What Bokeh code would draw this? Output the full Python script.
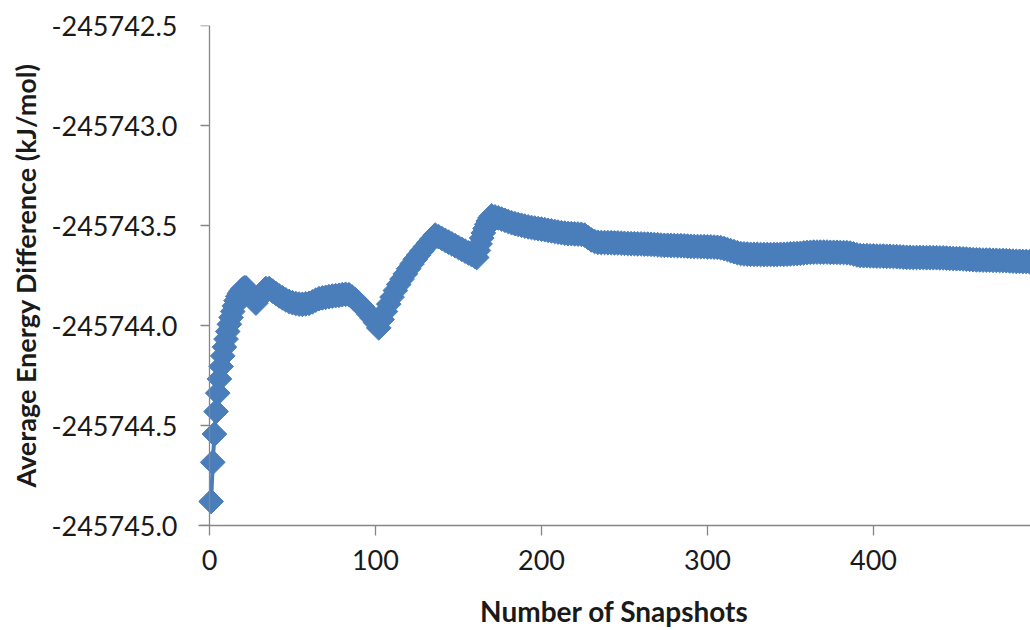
import math

from bokeh.embed import file_html
from bokeh.models import CustomJSTickFormatter, FixedTicker, LinearAxis, PrintfTickFormatter, Range1d
from bokeh.plotting import figure
from bokeh.resources import INLINE

# Running average of the energy difference versus number of snapshots
snapshots = [
    1, 2, 3, 4, 5, 6, 7, 8, 9, 10, 11, 12, 13, 14, 15, 16, 17, 18, 19, 20, 21, 22,
    24, 26, 28, 30, 32, 34, 36, 38, 40, 42, 44, 46, 48, 50, 52, 54, 56, 58, 60,
    62, 64, 66, 68, 70, 72, 74, 76, 78, 80, 82, 84, 86, 88, 90, 92, 94, 96, 98, 100,
    102, 104, 106, 108, 110, 112, 114, 116, 118, 120, 122, 124, 126, 128, 130,
    132, 134, 136, 138, 140, 142, 144, 146, 148, 150, 152, 154, 156, 158, 160,
    161, 162, 163, 164, 165, 166, 167, 168, 169, 170,
    172, 174, 176, 178, 180, 182, 184, 186, 188, 190, 192, 194, 196, 198, 200,
    202, 204, 206, 208, 210, 212, 214, 216, 218, 220, 222, 224, 226, 228, 230,
    232, 234, 236, 238, 240, 242, 244, 246, 248, 250, 252, 254, 256, 258, 260,
    262, 264, 266, 268, 270, 272, 274, 276, 278, 280, 282, 284, 286, 288, 290,
    292, 294, 296, 298, 300, 302, 304, 306, 308, 310, 312, 314, 316, 318, 320,
    322, 324, 326, 328, 330, 332, 334, 336, 338, 340, 342, 344, 346, 348, 350,
    352, 354, 356, 358, 360, 362, 364, 366, 368, 370, 372, 374, 376, 378, 380,
    382, 384, 386, 388, 390, 392, 394, 396, 398, 400, 402, 404, 406, 408, 410,
    412, 414, 416, 418, 420, 422, 424, 426, 428, 430, 432, 434, 436, 438, 440,
    442, 444, 446, 448, 450, 452, 454, 456, 458, 460, 462, 464, 466, 468, 470,
    472, 474, 476, 478, 480, 482, 484, 486, 488, 490, 492, 494, 496, 498, 500,
]

energies = [
    -245744.880, -245744.684, -245744.543, -245744.430, -245744.338, -245744.267,
    -245744.205, -245744.152, -245744.108, -245744.068, -245744.030, -245743.994,
    -245743.960, -245743.930, -245743.902, -245743.876, -245743.855, -245743.840,
    -245743.828, -245743.818, -245743.812, -245743.812,
    -245743.840, -245743.866, -245743.888, -245743.864, -245743.840, -245743.815,
    -245743.815, -245743.828, -245743.840, -245743.852, -245743.862, -245743.872,
    -245743.880, -245743.886, -245743.890, -245743.893, -245743.894, -245743.892,
    -245743.889,
    -245743.882, -245743.873, -245743.866, -245743.862, -245743.859, -245743.856,
    -245743.853, -245743.851, -245743.849, -245743.846, -245743.844, -245743.846,
    -245743.858, -245743.872, -245743.888, -245743.905, -245743.924, -245743.943,
    -245743.963, -245743.985,
    -245744.012, -245743.970, -245743.930, -245743.893, -245743.858, -245743.825,
    -245743.795, -245743.768, -245743.742, -245743.716, -245743.692, -245743.669,
    -245743.648, -245743.627, -245743.607,
    -245743.588, -245743.568, -245743.548, -245743.556, -245743.565, -245743.574,
    -245743.583, -245743.592, -245743.601, -245743.610, -245743.619, -245743.628,
    -245743.637, -245743.646, -245743.655,
    -245743.660, -245743.625, -245743.592, -245743.563, -245743.537, -245743.515,
    -245743.495, -245743.477, -245743.462, -245743.452,
    -245743.457, -245743.462, -245743.468, -245743.474, -245743.480, -245743.486,
    -245743.491, -245743.495, -245743.499, -245743.503, -245743.507, -245743.510,
    -245743.513, -245743.516, -245743.518,
    -245743.521, -245743.524, -245743.527, -245743.530, -245743.533, -245743.536,
    -245743.538, -245743.540, -245743.541, -245743.542, -245743.543, -245743.544,
    -245743.548, -245743.560, -245743.572,
    -245743.580, -245743.584, -245743.585, -245743.585, -245743.586, -245743.586,
    -245743.587, -245743.587, -245743.588, -245743.589, -245743.590, -245743.591,
    -245743.591, -245743.592, -245743.592,
    -245743.593, -245743.593, -245743.594, -245743.595, -245743.596, -245743.598,
    -245743.599, -245743.599, -245743.600, -245743.600, -245743.601, -245743.601,
    -245743.602, -245743.603, -245743.604,
    -245743.605, -245743.605, -245743.606, -245743.606, -245743.607, -245743.607,
    -245743.608, -245743.609, -245743.611, -245743.615, -245743.620, -245743.626,
    -245743.631, -245743.636, -245743.640,
    -245743.642, -245743.643, -245743.644, -245743.644, -245743.644, -245743.645,
    -245743.645, -245743.645, -245743.645, -245743.645, -245743.645, -245743.644,
    -245743.644, -245743.643, -245743.642,
    -245743.641, -245743.640, -245743.639, -245743.637, -245743.635, -245743.634,
    -245743.633, -245743.633, -245743.633, -245743.633, -245743.633, -245743.634,
    -245743.634, -245743.634, -245743.635,
    -245743.635, -245743.636, -245743.638, -245743.642, -245743.647, -245743.650,
    -245743.651, -245743.651, -245743.652, -245743.652, -245743.653, -245743.653,
    -245743.653, -245743.654, -245743.654,
    -245743.655, -245743.656, -245743.657, -245743.658, -245743.659, -245743.659,
    -245743.660, -245743.660, -245743.660, -245743.660, -245743.661, -245743.661,
    -245743.661, -245743.661, -245743.662,
    -245743.662, -245743.663, -245743.664, -245743.665, -245743.666, -245743.666,
    -245743.667, -245743.668, -245743.669, -245743.671, -245743.672, -245743.672,
    -245743.673, -245743.673, -245743.673,
    -245743.674, -245743.674, -245743.675, -245743.675, -245743.676, -245743.677,
    -245743.678, -245743.679, -245743.679, -245743.680, -245743.680, -245743.681,
    -245743.681, -245743.682, -245743.682,
]

x_ticks = [0, 100, 200, 300, 400, 500]
y_ticks = [-245745.0, -245744.5, -245744.0, -245743.5, -245743.0, -245742.5]

SERIES_COLOR = "#4a7ebb"
AXIS_COLOR = "#868686"
TEXT_COLOR = "#1a1a1a"
FONT = "Lato"

# The frame starts a little left of zero so the first markers are not clipped;
# the visible value-axis line and its ticks are pinned at x = 0.
p = figure(
    width=1030,
    height=630,
    output_backend="svg",
    toolbar_location=None,
    x_range=Range1d(-6.6, 494.6),
    y_range=Range1d(-245745.0, -245742.5),
    min_border_left=198,
    min_border_right=0,
    min_border_top=25,
    min_border_bottom=104,
    background_fill_color="white",
    border_fill_color="white",
    outline_line_color=None,
)

p.xgrid.grid_line_color = None
p.ygrid.grid_line_color = None

p.line(snapshots, energies, line_color=SERIES_COLOR, line_width=4)
p.scatter(
    snapshots,
    energies,
    marker="square",
    angle=math.pi / 4,
    size=17.5,
    fill_color=SERIES_COLOR,
    line_color=SERIES_COLOR,
    line_width=1,
)

# Horizontal axis
xa = p.xaxis[0]
xa.ticker = FixedTicker(ticks=x_ticks)
xa.axis_line_color = AXIS_COLOR
xa.axis_line_width = 1.3
xa.major_tick_line_color = AXIS_COLOR
xa.major_tick_line_width = 1.3
xa.major_tick_in = 0
xa.major_tick_out = 10
xa.minor_tick_line_color = None
xa.major_label_text_font = FONT
xa.major_label_text_font_size = "27px"
xa.major_label_text_color = TEXT_COLOR
xa.major_label_standoff = 14
xa.axis_label = "Number of Snapshots"
xa.axis_label_text_font = FONT
xa.axis_label_text_font_style = "bold"
xa.axis_label_text_font_size = "28px"
xa.axis_label_text_color = TEXT_COLOR
xa.axis_label_standoff = 21

# Value axis labels and title, laid out against the frame edge
ya = p.yaxis[0]
ya.ticker = FixedTicker(ticks=y_ticks)
ya.formatter = PrintfTickFormatter(format="%.1f")
ya.axis_line_color = None
ya.major_tick_line_color = None
ya.minor_tick_line_color = None
ya.major_tick_in = 0
ya.major_tick_out = 0
ya.major_label_standoff = 21
ya.major_label_text_font = FONT
ya.major_label_text_font_size = "27px"
ya.major_label_text_color = TEXT_COLOR
ya.axis_label = "Average Energy Difference (kJ/mol)"
ya.axis_label_text_font = FONT
ya.axis_label_text_font_style = "bold"
ya.axis_label_text_font_size = "27px"
ya.axis_label_text_color = TEXT_COLOR
ya.axis_label_standoff = 6

# Value axis line and outward ticks drawn at x = 0
y_rule = LinearAxis(
    fixed_location=0,
    ticker=FixedTicker(ticks=y_ticks),
    formatter=CustomJSTickFormatter(code="return ''"),
    axis_line_color=AXIS_COLOR,
    axis_line_width=1.3,
    major_tick_line_color=AXIS_COLOR,
    major_tick_line_width=1.3,
    major_tick_in=0,
    major_tick_out=9,
    minor_tick_line_color=None,
    major_label_standoff=0,
    major_label_text_font_size="1px",
)
p.add_layout(y_rule, "left")

open("out.html", "w").write(file_html(p, INLINE))
